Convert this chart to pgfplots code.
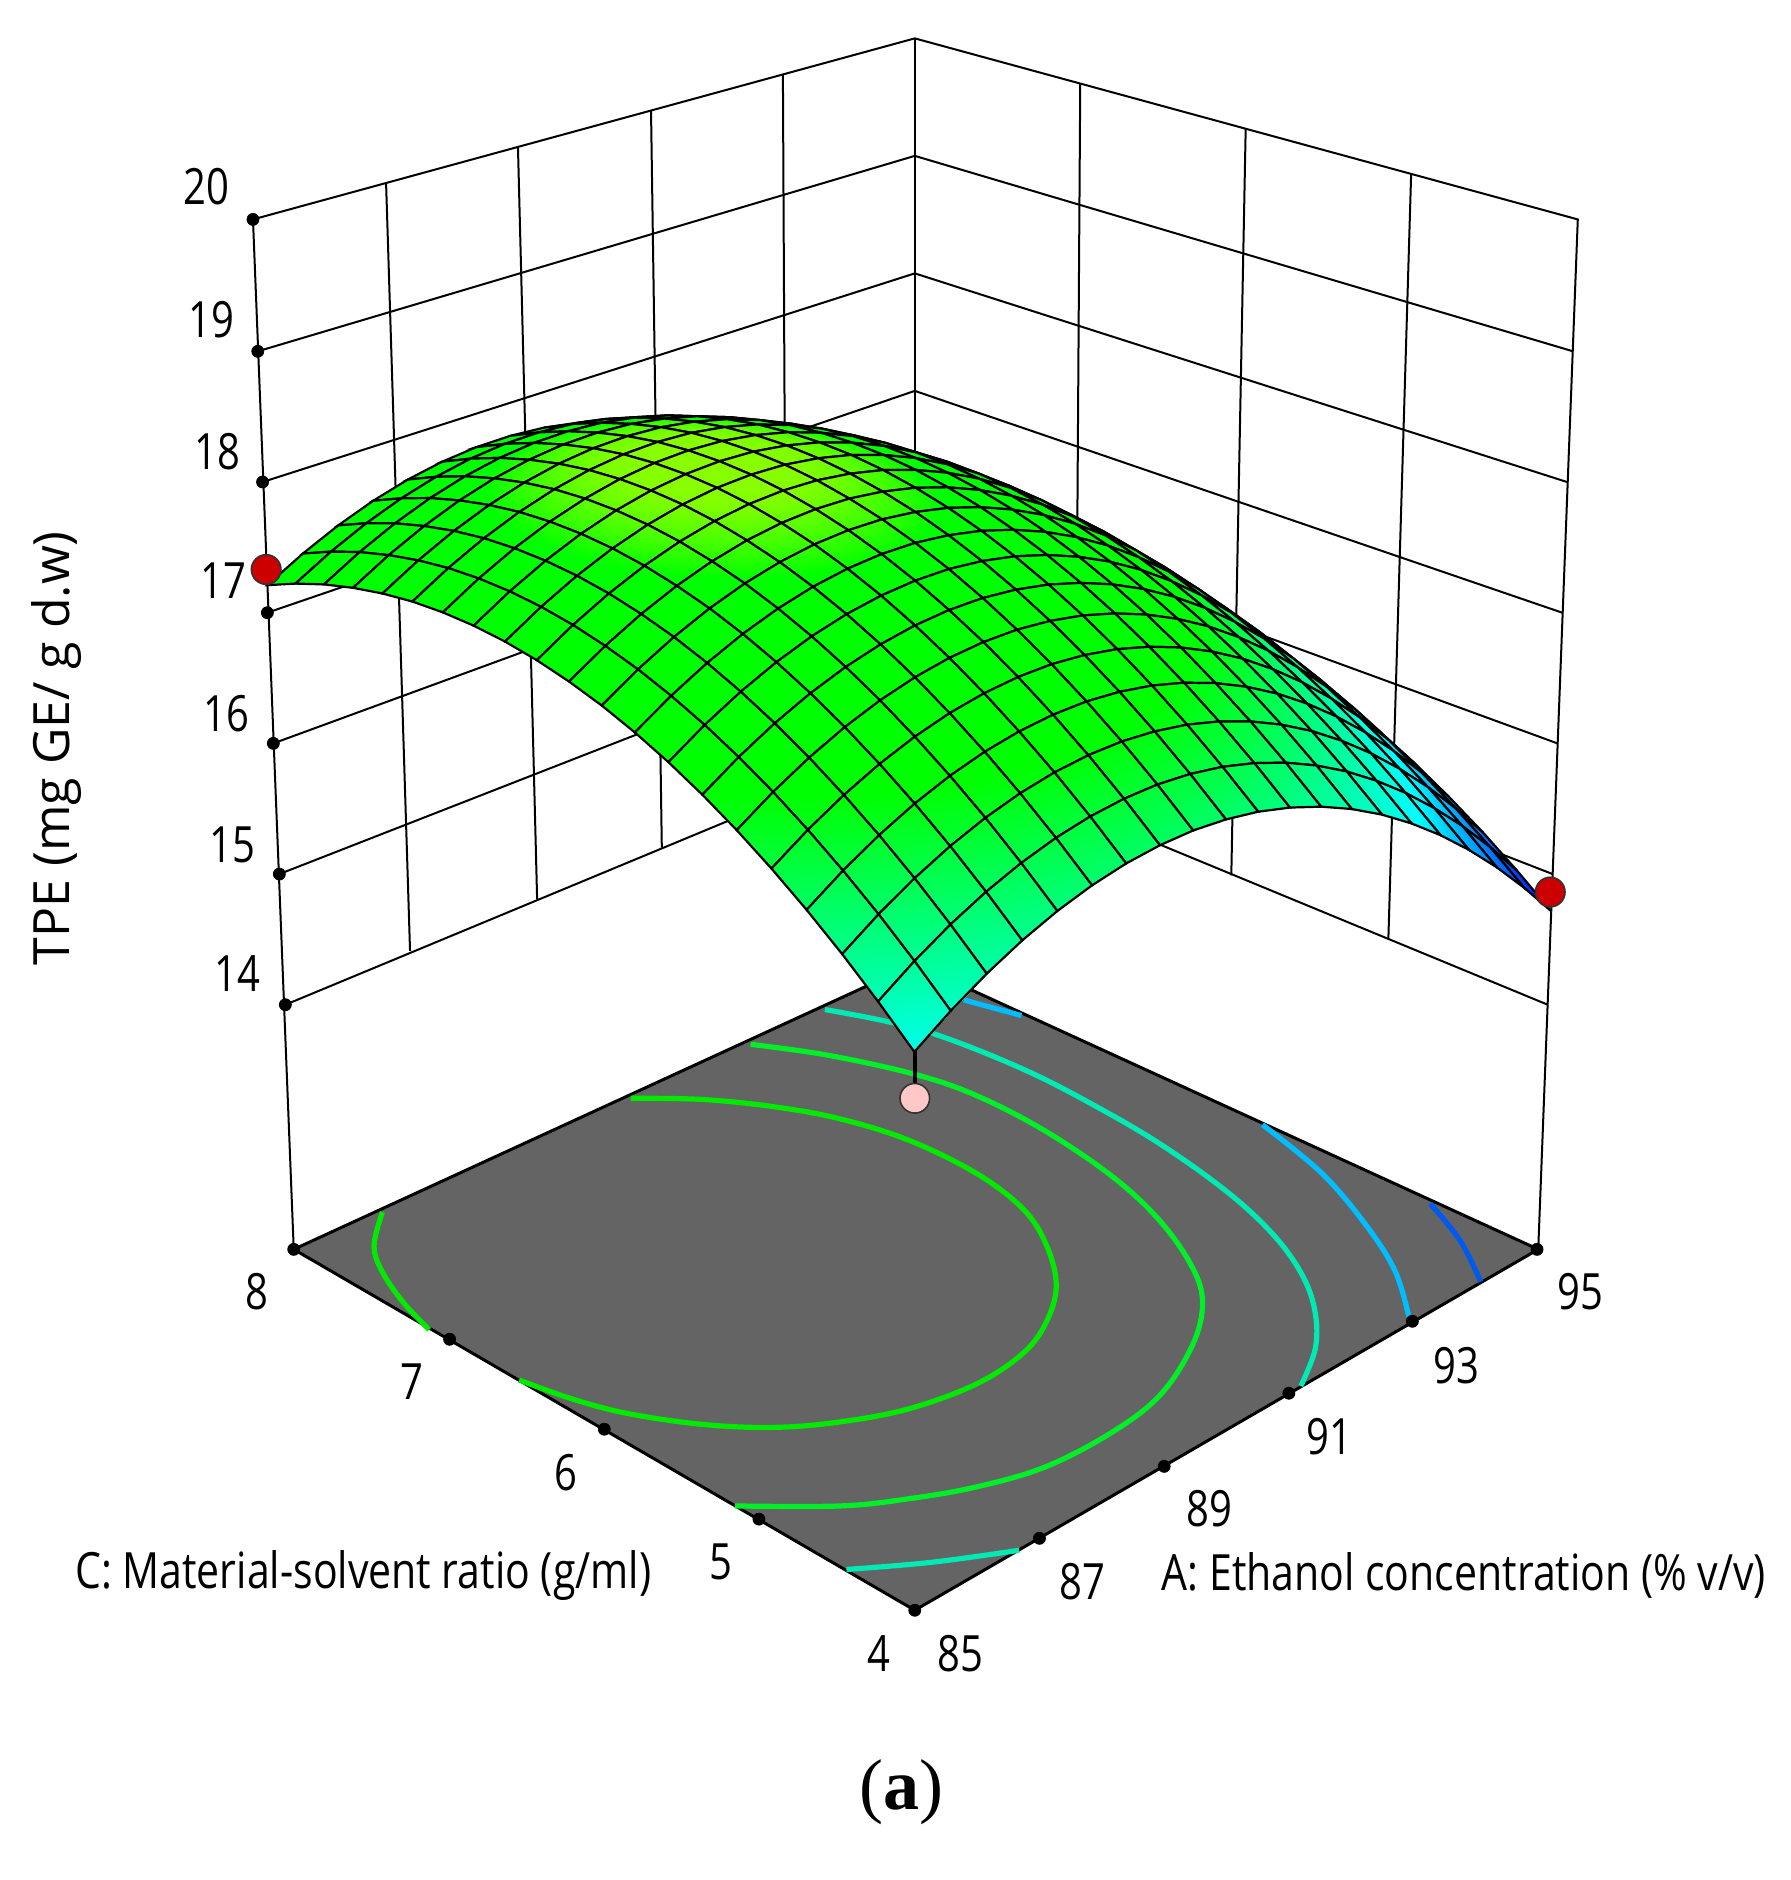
\documentclass[border=0pt]{standalone}
\usepackage{pgfplots}
\usepackage{pgfplotstable}
\usepackage{fontspec}
\setmainfont{Open Sans}
\newfontfamily\serifbit{Liberation Serif}
\pgfplotsset{compat=1.18}

% fitted response surface, read off the grid of the picture: A, C, TPE
\pgfplotstableread{
A C z
95 8 15.648
95 7.8 15.774
95 7.6 15.882
95 7.4 15.971
95 7.2 16.044
95 7 16.100
95 6.8 16.137
95 6.6 16.157
95 6.4 16.160
95 6.2 16.145
95 6 16.112
95 5.8 16.063
95 5.6 15.995
95 5.4 15.910
95 5.2 15.807
95 5 15.687
95 4.8 15.549
95 4.6 15.394
95 4.4 15.222
95 4.2 15.031
95 4 14.823
94.5 8 15.959
94.5 7.8 16.084
94.5 7.6 16.191
94.5 7.4 16.279
94.5 7.2 16.351
94.5 7 16.406
94.5 6.8 16.442
94.5 6.6 16.461
94.5 6.4 16.463
94.5 6.2 16.447
94.5 6 16.413
94.5 5.8 16.363
94.5 5.6 16.294
94.5 5.4 16.208
94.5 5.2 16.104
94.5 5 15.983
94.5 4.8 15.844
94.5 4.6 15.688
94.5 4.4 15.515
94.5 4.2 15.323
94.5 4 15.114
94 8 16.246
94 7.8 16.370
94 7.6 16.476
94 7.4 16.563
94 7.2 16.634
94 7 16.688
94 6.8 16.723
94 6.6 16.741
94 6.4 16.742
94 6.2 16.725
94 6 16.690
94 5.8 16.639
94 5.6 16.569
94 5.4 16.482
94 5.2 16.377
94 5 16.255
94 4.8 16.115
94 4.6 15.958
94 4.4 15.784
94 4.2 15.591
94 4 15.381
93.5 8 16.508
93.5 7.8 16.631
93.5 7.6 16.736
93.5 7.4 16.822
93.5 7.2 16.892
93.5 7 16.945
93.5 6.8 16.979
93.5 6.6 16.996
93.5 6.4 16.996
93.5 6.2 16.978
93.5 6 16.942
93.5 5.8 16.890
93.5 5.6 16.819
93.5 5.4 16.731
93.5 5.2 16.625
93.5 5 16.502
93.5 4.8 16.361
93.5 4.6 16.203
93.5 4.4 16.028
93.5 4.2 15.834
93.5 4 15.623
93 8 16.747
93 7.8 16.869
93 7.6 16.973
93 7.4 17.058
93 7.2 17.127
93 7 17.179
93 6.8 17.212
93 6.6 17.228
93 6.4 17.227
93 6.2 17.208
93 6 17.171
93 5.8 17.118
93 5.6 17.046
93 5.4 16.957
93 5.2 16.850
93 5 16.726
93 4.8 16.584
93 4.6 16.425
93 4.4 16.249
93 4.2 16.054
93 4 15.842
92.5 8 16.962
92.5 7.8 17.083
92.5 7.6 17.186
92.5 7.4 17.270
92.5 7.2 17.338
92.5 7 17.389
92.5 6.8 17.421
92.5 6.6 17.436
92.5 6.4 17.434
92.5 6.2 17.414
92.5 6 17.376
92.5 5.8 17.322
92.5 5.6 17.249
92.5 5.4 17.159
92.5 5.2 17.051
92.5 5 16.926
92.5 4.8 16.783
92.5 4.6 16.623
92.5 4.4 16.446
92.5 4.2 16.250
92.5 4 16.037
92 8 17.154
92 7.8 17.274
92 7.6 17.376
92 7.4 17.459
92 7.2 17.526
92 7 17.576
92 6.8 17.607
92 6.6 17.621
92 6.4 17.618
92 6.2 17.597
92 6 17.558
92 5.8 17.503
92 5.6 17.429
92 5.4 17.338
92 5.2 17.229
92 5 17.103
92 4.8 16.959
92 4.6 16.798
92 4.4 16.620
92 4.2 16.423
92 4 16.209
91.5 8 17.321
91.5 7.8 17.440
91.5 7.6 17.541
91.5 7.4 17.623
91.5 7.2 17.689
91.5 7 17.738
91.5 6.8 17.768
91.5 6.6 17.781
91.5 6.4 17.777
91.5 6.2 17.755
91.5 6 17.715
91.5 5.8 17.659
91.5 5.6 17.584
91.5 5.4 17.492
91.5 5.2 17.382
91.5 5 17.255
91.5 4.8 17.110
91.5 4.6 16.948
91.5 4.4 16.769
91.5 4.2 16.571
91.5 4 16.356
91 8 17.464
91 7.8 17.582
91 7.6 17.682
91 7.4 17.763
91 7.2 17.828
91 7 17.876
91 6.8 17.905
91 6.6 17.917
91 6.4 17.912
91 6.2 17.889
91 6 17.848
91 5.8 17.791
91 5.6 17.715
91 5.4 17.622
91 5.2 17.511
91 5 17.383
91 4.8 17.237
91 4.6 17.074
91 4.4 16.894
91 4.2 16.695
91 4 16.479
90.5 8 17.583
90.5 7.8 17.700
90.5 7.6 17.799
90.5 7.4 17.879
90.5 7.2 17.943
90.5 7 17.990
90.5 6.8 18.018
90.5 6.6 18.029
90.5 6.4 18.023
90.5 6.2 17.999
90.5 6 17.957
90.5 5.8 17.899
90.5 5.6 17.822
90.5 5.4 17.728
90.5 5.2 17.616
90.5 5 17.487
90.5 4.8 17.340
90.5 4.6 17.176
90.5 4.4 16.995
90.5 4.2 16.795
90.5 4 16.578
90 8 17.679
90 7.8 17.795
90 7.6 17.893
90 7.4 17.972
90 7.2 18.035
90 7 18.081
90 6.8 18.108
90 6.6 18.118
90 6.4 18.111
90 6.2 18.086
90 6 18.043
90 5.8 17.984
90 5.6 17.906
90 5.4 17.811
90 5.2 17.698
90 5 17.568
90 4.8 17.420
90 4.6 17.255
90 4.4 17.073
90 4.2 16.872
90 4 16.654
89.5 8 17.750
89.5 7.8 17.865
89.5 7.6 17.962
89.5 7.4 18.040
89.5 7.2 18.102
89.5 7 18.147
89.5 6.8 18.173
89.5 6.6 18.182
89.5 6.4 18.174
89.5 6.2 18.148
89.5 6 18.104
89.5 5.8 18.044
89.5 5.6 17.965
89.5 5.4 17.869
89.5 5.2 17.755
89.5 5 17.624
89.5 4.8 17.475
89.5 4.6 17.309
89.5 4.4 17.126
89.5 4.2 16.924
89.5 4 16.705
89 8 17.798
89 7.8 17.912
89 7.6 18.008
89 7.4 18.085
89 7.2 18.146
89 7 18.190
89 6.8 18.215
89 6.6 18.223
89 6.4 18.214
89 6.2 18.187
89 6 18.142
89 5.8 18.081
89 5.6 18.001
89 5.4 17.904
89 5.2 17.789
89 5 17.657
89 4.8 17.507
89 4.6 17.340
89 4.4 17.156
89 4.2 16.953
89 4 16.733
88.5 8 17.821
88.5 7.8 17.934
88.5 7.6 18.029
88.5 7.4 18.105
88.5 7.2 18.165
88.5 7 18.208
88.5 6.8 18.232
88.5 6.6 18.239
88.5 6.4 18.229
88.5 6.2 18.201
88.5 6 18.155
88.5 5.8 18.093
88.5 5.6 18.012
88.5 5.4 17.914
88.5 5.2 17.798
88.5 5 17.665
88.5 4.8 17.514
88.5 4.6 17.346
88.5 4.4 17.161
88.5 4.2 16.957
88.5 4 16.736
88 8 17.821
88 7.8 17.933
88 7.6 18.027
88 7.4 18.102
88 7.2 18.161
88 7 18.203
88 6.8 18.226
88 6.6 18.232
88 6.4 18.221
88 6.2 18.192
88 6 18.145
88 5.8 18.082
88 5.6 18.000
88 5.4 17.901
88 5.2 17.784
88 5 17.650
88 4.8 17.498
88 4.6 17.329
88 4.4 17.143
88 4.2 16.938
88 4 16.716
87.5 8 17.797
87.5 7.8 17.908
87.5 7.6 18.001
87.5 7.4 18.075
87.5 7.2 18.133
87.5 7 18.174
87.5 6.8 18.196
87.5 6.6 18.201
87.5 6.4 18.189
87.5 6.2 18.159
87.5 6 18.111
87.5 5.8 18.047
87.5 5.6 17.964
87.5 5.4 17.864
87.5 5.2 17.746
87.5 5 17.611
87.5 4.8 17.458
87.5 4.6 17.288
87.5 4.4 17.101
87.5 4.2 16.895
87.5 4 16.672
87 8 17.749
87 7.8 17.859
87 7.6 17.951
87 7.4 18.024
87 7.2 18.081
87 7 18.121
87 6.8 18.142
87 6.6 18.146
87 6.4 18.133
87 6.2 18.102
87 6 18.053
87 5.8 17.988
87 5.6 17.904
87 5.4 17.803
87 5.2 17.684
87 5 17.548
87 4.8 17.394
87 4.6 17.223
87 4.4 17.035
87 4.2 16.828
87 4 16.604
86.5 8 17.677
86.5 7.8 17.786
86.5 7.6 17.877
86.5 7.4 17.949
86.5 7.2 18.005
86.5 7 18.044
86.5 6.8 18.064
86.5 6.6 18.067
86.5 6.4 18.053
86.5 6.2 18.021
86.5 6 17.971
86.5 5.8 17.905
86.5 5.6 17.820
86.5 5.4 17.718
86.5 5.2 17.598
86.5 5 17.461
86.5 4.8 17.306
86.5 4.6 17.134
86.5 4.4 16.945
86.5 4.2 16.737
86.5 4 16.512
86 8 17.581
86 7.8 17.689
86 7.6 17.779
86 7.4 17.850
86 7.2 17.905
86 7 17.943
86 6.8 17.962
86 6.6 17.964
86 6.4 17.949
86 6.2 17.916
86 6 17.865
86 5.8 17.798
86 5.6 17.712
86 5.4 17.609
86 5.2 17.488
86 5 17.350
86 4.8 17.194
86 4.6 17.021
86 4.4 16.831
86 4.2 16.622
86 4 16.396
85.5 8 17.461
85.5 7.8 17.568
85.5 7.6 17.657
85.5 7.4 17.727
85.5 7.2 17.781
85.5 7 17.818
85.5 6.8 17.836
85.5 6.6 17.837
85.5 6.4 17.821
85.5 6.2 17.787
85.5 6 17.735
85.5 5.8 17.667
85.5 5.6 17.580
85.5 5.4 17.476
85.5 5.2 17.354
85.5 5 17.215
85.5 4.8 17.058
85.5 4.6 16.884
85.5 4.4 16.693
85.5 4.2 16.483
85.5 4 16.256
85 8 17.317
85 7.8 17.423
85 7.6 17.511
85 7.4 17.580
85 7.2 17.633
85 7 17.669
85 6.8 17.686
85 6.6 17.686
85 6.4 17.669
85 6.2 17.634
85 6 17.581
85 5.8 17.512
85 5.6 17.424
85 5.4 17.319
85 5.2 17.196
85 5 17.056
85 4.8 16.898
85 4.6 16.723
85 4.4 16.531
85 4.2 16.320
85 4 16.092
}\surfdata

% perspective of the box, from its corners in the picture
\newcommand{\uu}{((\thisrow{A}-85)/10)}
\newcommand{\vv}{((\thisrow{C}-4)/4)}
\newcommand{\ww}{((\thisrow{z}-12.13)/7.87)}
\newcommand{\den}{(1+0.1324*(\uu+\vv)-0.0686*\ww)}

\definecolor{floorgrey}{RGB}{100,100,100}
\tikzset{lab/.style={font=\fontsize{25}{30}\selectfont, xscale=0.8, inner sep=0pt},
         tit/.style={font=\fontsize{25}{30}\selectfont, xscale=0.82, inner sep=0pt}}

\begin{document}
\begin{tikzpicture}
\begin{axis}[
    hide axis, scale only axis,
    width=895pt, height=940pt,
    xmin=0, xmax=1493, ymin=0, ymax=1568,
    y dir=reverse, clip=false,
    point meta min=14.8, point meta max=18.2,
    colormap={dx}{rgb255(0pt)=(0,0,255); rgb255(12pt)=(0,255,255); rgb255(24pt)=(0,255,0); rgb255(32pt)=(0,255,0); rgb255(34pt)=(135,255,0)},
    wall/.style={black, line width=1pt},
    cont/.style={smooth, tension=0.6, line width=2.6pt},
]
% box edges
\addplot[wall] coordinates {(245,1042) (211,183) (763,32) (1316,183) (1283,1042)};
\addplot[wall] coordinates {(763,32) (763,804)};
% z levels across both walls
\addplot[wall] coordinates {(215,293) (763,130) (1312,293)};
\addplot[wall] coordinates {(219,402) (763,228) (1307,402)};
\addplot[wall] coordinates {(223,511) (763,326) (1303,511)};
\addplot[wall] coordinates {(228,620) (763,424) (1299,620)};
\addplot[wall] coordinates {(233,729) (763,522) (1295,729)};
\addplot[wall] coordinates {(238,838) (763,620) (1291,838)};
% wall verticals
\addplot[wall] coordinates {(322,152) (342,793)};
\addplot[wall] coordinates {(432,122) (448,750)};
\addplot[wall] coordinates {(543,92) (552,707)};
\addplot[wall] coordinates {(653,62) (656,664)};
\addplot[wall] coordinates {(901,70) (897,675)};
\addplot[wall] coordinates {(1039,107) (1027,730)};
\addplot[wall] coordinates {(1177,145) (1158,783)};
% floor
\addplot[fill=floorgrey, draw=black, line width=1.5pt] coordinates {(763,1343) (245,1042) (763,804) (1283,1042)} -- cycle;
% contours on the floor
\addplot[cont, color={rgb,255:red,0;green,235;blue,0}] coordinates {(526,916) (586,917) (645,923) (700,933) (758,951) (815,979) (854,1009) (873,1039) (881,1072) (873,1102) (854,1128) (815,1154) (758,1175) (700,1186) (645,1190.5) (586,1188) (524,1179) (478,1167) (433,1151)};
\addplot[cont, color={rgb,255:red,0;green,235;blue,0}] coordinates {(358,1109) (337,1087) (319,1061) (312,1039) (319,1011)};
\addplot[cont, color={rgb,255:red,0;green,240;blue,40}] coordinates {(626,871) (690,880) (763,896) (815,914) (873,944) (930,983) (969,1020) (995,1058) (1003,1087) (995,1121) (969,1162) (930,1193) (873,1223) (815,1240) (758,1250) (701,1256) (613,1256)};
\addplot[cont, color={rgb,255:red,0;green,235;blue,180}] coordinates {(688,842) (740,852) (787,865) (854,892) (911,921) (969,955) (1026,996) (1064,1032) (1087,1065) (1097,1095) (1097,1125) (1085,1156)};
\addplot[cont, color={rgb,255:red,0;green,235;blue,180}] coordinates {(706,1309) (777,1303) (850,1293)};
\addplot[cont, color={rgb,255:red,0;green,190;blue,255}] coordinates {(804,834) (852,847)};
\addplot[cont, color={rgb,255:red,0;green,190;blue,255}] coordinates {(1053,938) (1103,979) (1141,1024) (1164,1061) (1175,1098)};
\addplot[cont, color={rgb,255:red,0;green,90;blue,240}] coordinates {(1193,1004) (1218,1035) (1235,1069)};
% design point under the low corner
\addplot[black, line width=2pt] coordinates {(763,876) (763,905)};
\addplot[only marks, mark=*, mark size=7.4pt, mark options={fill={rgb,255:red,255;green,200;blue,200}, draw=black!80, line width=.8pt}] coordinates {(763,916)};
% the surface, back to front
\addplot[surf, shader=faceted interp, faceted color=black, line width=1.1pt,
    mesh/rows=21, mesh/cols=21, point meta=\thisrow{z}]
    table[x expr={(763+690*\uu-485.6*\vv-53*\ww)/\den},
          y expr={(1343-163*\uu-163*\vv-985.3*\ww)/\den}] {\surfdata};
% tick dots
\addplot[only marks, mark=*, mark size=3pt, black] coordinates {(211,183) (215,293) (219,402) (223,511) (228,620) (233,729) (238,838) (245,1042) (375,1117) (504,1192) (633,1267) (763,1343) (867,1283) (971,1223) (1075,1162) (1178,1102) (1282,1042)};
% design points above
\addplot[only marks, mark=*, mark size=7.4pt, mark options={fill={rgb,255:red,204;green,0;blue,0}, draw=black!80, line width=.8pt}] coordinates {(222,475) (1293,744)};
% tick labels
\node[lab] at (axis cs:172,156) {20};
\node[lab] at (axis cs:176,267) {19};
\node[lab] at (axis cs:181,377) {18};
\node[lab] at (axis cs:186,484) {17};
\node[lab] at (axis cs:189,595) {16};
\node[lab] at (axis cs:194,705) {15};
\node[lab] at (axis cs:198,812) {14};
\node[lab] at (axis cs:214,1077) {8};
\node[lab] at (axis cs:344,1152) {7};
\node[lab] at (axis cs:472,1228) {6};
\node[lab] at (axis cs:601,1303) {5};
\node[lab] at (axis cs:733,1379) {4};
\node[lab] at (axis cs:801,1379) {85};
\node[lab] at (axis cs:903,1319) {87};
\node[lab] at (axis cs:1009,1258) {89};
\node[lab] at (axis cs:1109,1198) {91};
\node[lab] at (axis cs:1215,1139) {93};
\node[lab] at (axis cs:1318,1077) {95};
\node[tit] at (axis cs:303,1314) {C: Material-solvent ratio (g/ml)};
\node[tit] at (axis cs:1221,1314) {A: Ethanol concentration (\% v/v)};
\node[inner sep=0pt, font=\fontsize{25}{30}\selectfont, rotate=90] at (axis cs:47,624) {TPE (mg GE/ g d.w)};
\node[inner sep=0pt, font=\fontsize{36}{42}\serifbit] at (axis cs:752,1495) {(\textbf{a})};
\end{axis}
\path[use as bounding box] (0,0) rectangle (895pt,940pt);
\end{tikzpicture}
\end{document}
